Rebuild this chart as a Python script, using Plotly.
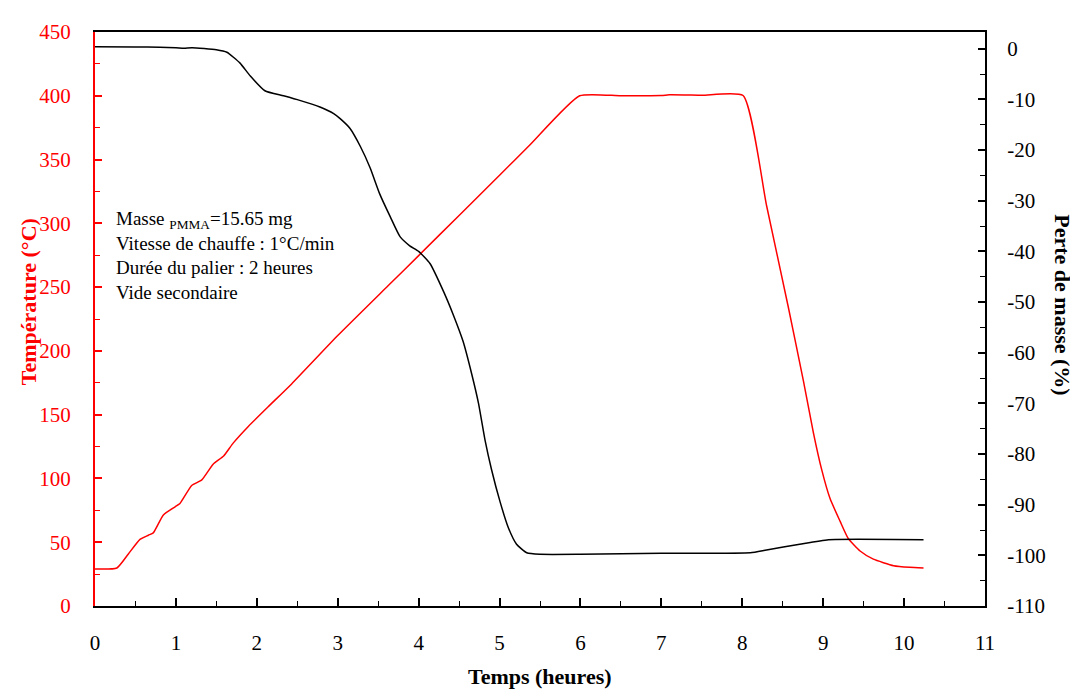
import plotly.graph_objects as go

# Temperature (°C) vs time (h)
t_temp = [0, 0.27, 0.41, 0.556, 0.66, 0.72, 0.845, 0.99, 1.05, 1.195, 1.32, 1.46, 1.59,
          1.71, 1.895, 2.14, 2.43, 3.0, 3.625, 4.0, 4.5, 5.0, 5.377, 5.99, 6.5, 7.0, 7.1,
          7.5, 8.01, 8.3, 8.57, 8.755, 8.88, 8.98, 9.085, 9.21, 9.31, 9.456, 9.62, 9.87,
          10.07, 10.24]
temp = [29, 29.8, 40.6, 52.2, 55.5, 57.3, 71.4, 77.8, 80.4, 94.5, 98.9, 111.2, 117.6,
        127.9, 140.8, 156.2, 174.1, 212, 251.2, 274.7, 306.2, 337.7, 361.6, 400, 400, 400.2,
        400.8, 400.4, 400.2, 314, 234, 176.7, 135.6, 107.3, 84.2, 66.3, 52.9, 43.1, 36.7,
        31.6, 30.3, 29.8]

# Mass loss (%) vs time (h)
t_mass = [0, 0.5, 0.8, 1.0, 1.1, 1.2, 1.5, 1.63, 1.79, 1.92, 2.10, 2.33, 2.53, 2.78, 2.95,
          3.03, 3.15, 3.28, 3.40, 3.52, 3.65, 3.77, 3.89, 4.0, 4.14, 4.31, 4.43, 4.55,
          4.656, 4.74, 4.82, 4.90, 5.006, 5.11, 5.21, 5.336, 5.5, 6.0, 7.0, 8.1, 8.3, 8.71,
          9.065, 10.24]
mass = [0.4, 0.35, 0.3, 0.2, 0.1, 0.2, -0.2, -0.7, -2.8, -5.4, -8.3, -9.3, -10.2, -11.5,
        -12.8, -13.8, -15.7, -19.3, -23.5, -28.7, -33.2, -37.1, -38.9, -40.0, -42.4, -48.0,
        -52.6, -57.8, -64.2, -70.0, -77.2, -83.0, -89.4, -94.6, -97.8, -99.5, -99.8, -99.8,
        -99.6, -99.5, -98.94, -97.8, -96.9, -96.9]

x_ticks = list(range(0, 12))
temp_ticks = list(range(0, 451, 50))
mass_ticks = list(range(-110, 1, 10))
mass_labels = [str(v) for v in mass_ticks]

SERIF = "Liberation Serif, Times New Roman, serif"

fig = go.Figure()
fig.add_trace(go.Scatter(x=t_temp, y=temp, mode="lines",
                         line=dict(color="#ff0000", width=1.5, shape="spline", smoothing=0.5),
                         showlegend=False, yaxis="y"))
fig.add_trace(go.Scatter(x=t_mass, y=mass, mode="lines",
                         line=dict(color="#000000", width=1.5, shape="spline", smoothing=0.5),
                         showlegend=False, yaxis="y2"))

fig.update_layout(
    width=1070, height=683,
    margin=dict(l=87, r=93, t=14, b=85),
    paper_bgcolor="white", plot_bgcolor="white",
    font=dict(family=SERIF, size=20, color="black"),
    xaxis=dict(range=[0, 11], tickvals=x_ticks, showgrid=False, zeroline=False,
               showline=True, linecolor="black", linewidth=2, mirror=True,
               ticks="inside", ticklen=8, tickwidth=1.5, tickcolor="black",
               minor=dict(dtick=0.5, ticks="inside", ticklen=5, tickcolor="black", tickwidth=1),
               tickfont=dict(family=SERIF, size=21, color="black"),
               ticklabelstandoff=17),
    yaxis=dict(range=[0, 450], tickvals=temp_ticks, showgrid=False, zeroline=False,
               showline=True, linecolor="#ff0000", linewidth=2,
               ticks="inside", ticklen=7, tickwidth=1.5, tickcolor="#ff0000",
               minor=dict(dtick=25, ticks="inside", ticklen=5, tickcolor="#ff0000", tickwidth=1),
               tickfont=dict(family=SERIF, size=21, color="#ff0000"),
               ticklabelstandoff=18),
    yaxis2=dict(range=[-110, 3.3], tickvals=mass_ticks, ticktext=mass_labels,
                overlaying="y", side="right",
                showgrid=False, zeroline=False,
                showline=True, linecolor="black", linewidth=2,
                ticks="inside", ticklen=7, tickwidth=1.5, tickcolor="black",
                minor=dict(dtick=5, ticks="inside", ticklen=5, tickcolor="black", tickwidth=1),
                tickfont=dict(family=SERIF, size=21, color="black"),
                ticklabelstandoff=16),
    annotations=[
        dict(text="Masse <sub>PMMA</sub>=15.65 mg<br>Vitesse de chauffe : 1°C/min<br>"
                  "Durée du palier : 2 heures<br>Vide secondaire",
             xref="paper", yref="paper", x=0.021, y=0.61, xanchor="left", yanchor="middle",
             align="left", showarrow=False, font=dict(family=SERIF, size=19, color="black")),
        dict(text="<b>Température (°C)</b>", xref="paper", yref="paper", x=-0.0753, y=0.531,
             textangle=-90, showarrow=False, xanchor="center", yanchor="middle",
             font=dict(family=SERIF, size=22, color="#ff0000")),
        dict(text="<b>Perte de masse (%)</b>", xref="paper", yref="paper", x=1.0876, y=0.524,
             textangle=90, showarrow=False, xanchor="center", yanchor="middle",
             font=dict(family=SERIF, size=22, color="black")),
        dict(text="<b>Temps (heures)</b>", xref="paper", yref="paper", x=0.5, y=-0.1233,
             showarrow=False, xanchor="center", yanchor="middle",
             font=dict(family=SERIF, size=22, color="black")),
    ],
)

fig.write_html("out.html")
